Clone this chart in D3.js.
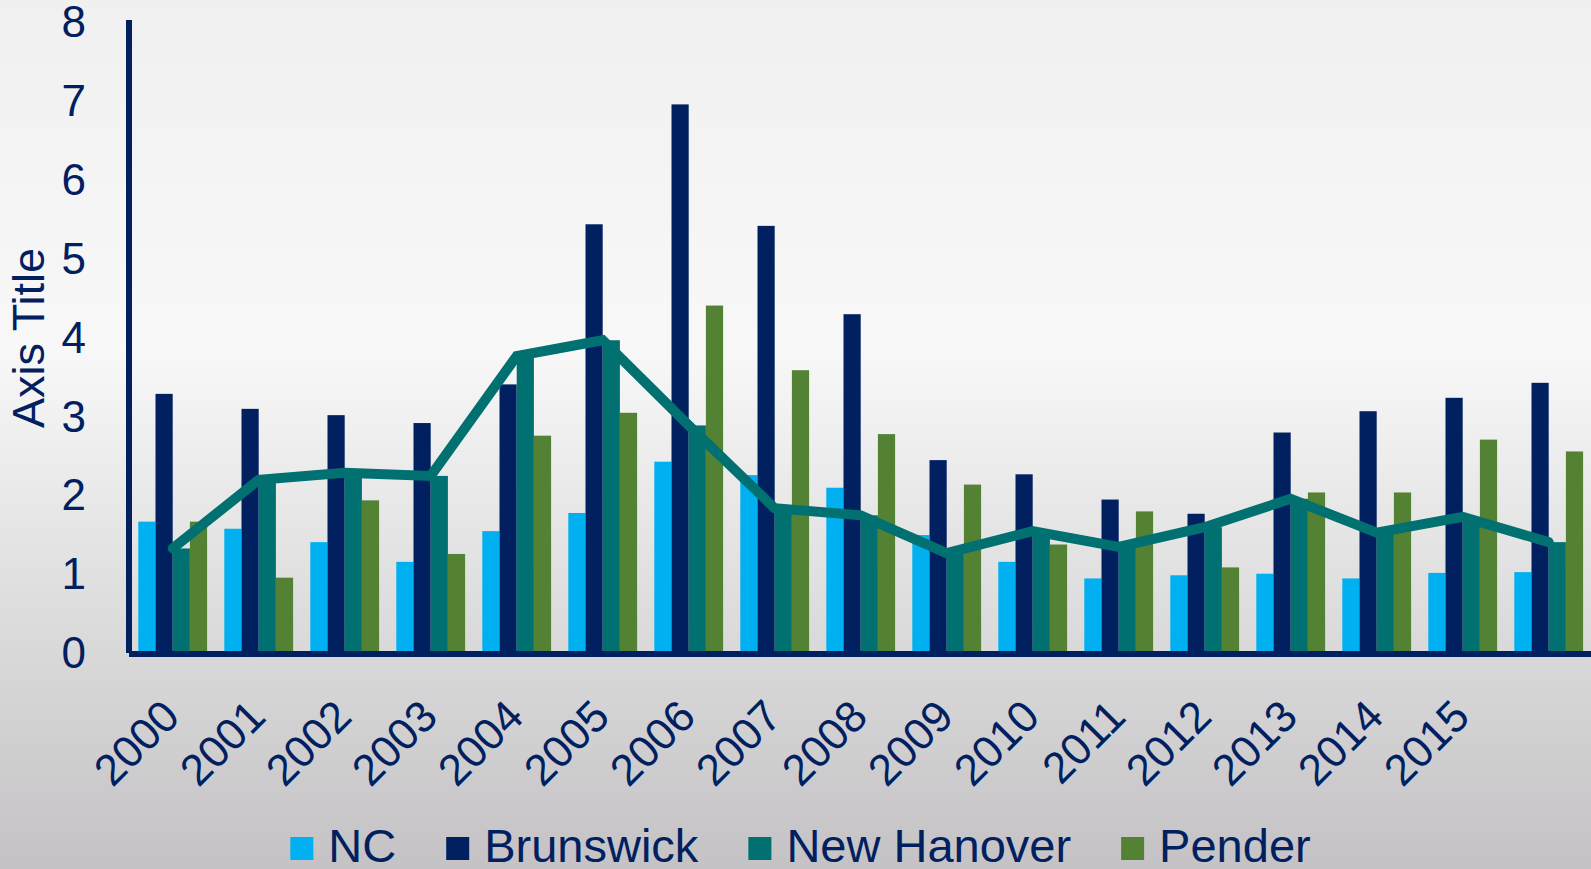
<!DOCTYPE html>
<html>
<head>
<meta charset="utf-8">
<script src="https://cdn.jsdelivr.net/npm/d3@7"></script>
<style>
  html, body { margin: 0; padding: 0; background: #f0f0f0; }
  svg { display: block; font-family: "Liberation Sans", Arial, sans-serif; }
</style>
</head>
<body>
<svg id="chart" width="1591" height="869"></svg>
<script>
// Category labels (the final group carries no label)
const years = ["2000","2001","2002","2003","2004","2005","2006","2007","2008",
               "2009","2010","2011","2012","2013","2014","2015",""];

const seriesNames = ["NC", "Brunswick", "New Hanover", "Pender"];

const ncValues        = [1.64,1.55,1.38,1.13,1.52,1.75,2.40,2.23,2.07,1.47,1.13,0.92,0.96,0.98,0.92,0.99,1.00];
const brunswickValues = [3.26,3.07,2.99,2.89,3.38,5.41,6.93,5.39,4.27,2.42,2.24,1.92,1.74,2.77,3.04,3.21,3.40];
const hanoverValues   = [1.30,2.17,2.26,2.22,3.74,3.94,2.86,1.81,1.72,1.24,1.52,1.32,1.57,1.93,1.50,1.70,1.38];
const penderValues    = [1.64,0.93,1.91,1.23,2.73,3.02,4.38,3.56,2.75,2.11,1.35,1.77,1.06,2.01,2.01,2.68,2.53];

const yTicks = [0,1,2,3,4,5,6,7,8];
const axisTitle = "Axis Title";

const colors = {
  "NC": "#00B0F0",
  "Brunswick": "#002060",
  "New Hanover": "#007070",
  "Pender": "#548235"
};
const textColor = "#002060";

const valuesBySeries = {
  "NC": ncValues,
  "Brunswick": brunswickValues,
  "New Hanover": hanoverValues,
  "Pender": penderValues
};

const rows = years.map((yr, i) => ({
  year: yr,
  values: seriesNames.map(s => ({ key: s, value: valuesBySeries[s][i] }))
}));

const W = 1591, H = 869;
const svg = d3.select("#chart");

// background gradient
const defs = svg.append("defs");
const grad = defs.append("linearGradient")
  .attr("id", "bg").attr("x1", 0).attr("y1", 0).attr("x2", 0).attr("y2", 1);
grad.append("stop").attr("offset", "0%").attr("stop-color", "#f0f0f0");
grad.append("stop").attr("offset", "40%").attr("stop-color", "#f8f8f8");
grad.append("stop").attr("offset", "100%").attr("stop-color", "#c4c2c4");
svg.append("rect").attr("width", W).attr("height", H).attr("fill", "url(#bg)");

// scales
const plotLeft = 129.7, plotRight = 1591.7;
const plotTop = 20, plotBottom = 651;

const x0 = d3.scaleBand().domain(years).range([plotLeft, plotRight]).paddingInner(0).paddingOuter(0);
const bw = x0.bandwidth();
const x1 = d3.scaleBand().domain(seriesNames).range([bw * 0.1, bw * 0.9]).padding(0);
const y = d3.scaleLinear().domain([0, 8]).range([plotBottom, plotTop]);

// bars
const groups = svg.append("g").selectAll("g")
  .data(rows).join("g")
  .attr("transform", d => `translate(${x0(d.year)},0)`);

groups.selectAll("rect")
  .data(d => d.values)
  .join("rect")
  .attr("x", d => x1(d.key))
  .attr("width", x1.bandwidth())
  .attr("y", d => y(d.value))
  .attr("height", d => y(0) - y(d.value))
  .attr("fill", d => colors[d.key]);

// New Hanover trend line through group centres
const line = d3.line()
  .x((d, i) => x0(years[i]) + bw / 2)
  .y(d => y(d));

svg.append("path")
  .datum(hanoverValues)
  .attr("d", line)
  .attr("fill", "none")
  .attr("stroke", colors["New Hanover"])
  .attr("stroke-width", 10)
  .attr("stroke-linecap", "round")
  .attr("stroke-linejoin", "miter");

// y axis
const yAxis = svg.append("g")
  .attr("transform", `translate(129,0)`)
  .call(d3.axisLeft(y).tickValues(yTicks).tickSize(0).tickSizeOuter(0).tickPadding(43).tickFormat(d3.format("d")));
yAxis.select(".domain")
  .attr("d", `M0,${plotTop}V${plotBottom + 2}`)
  .attr("stroke", textColor).attr("stroke-width", 6);
yAxis.selectAll("text")
  .attr("fill", textColor)
  .attr("font-size", 44)
  .attr("font-family", "Liberation Sans, Arial, sans-serif")
  .attr("dy", "0.38em");

// x axis
const xAxis = svg.append("g")
  .attr("transform", `translate(0,${plotBottom + 3})`)
  .call(d3.axisBottom(x0).tickSize(0).tickSizeOuter(0));
xAxis.select(".domain")
  .attr("d", `M129,0H${W}`)
  .attr("stroke", textColor).attr("stroke-width", 6);
xAxis.selectAll("text")
  .attr("fill", textColor)
  .attr("font-size", 44)
  .attr("font-family", "Liberation Sans, Arial, sans-serif")
  .attr("text-anchor", "end")
  .attr("x", 0).attr("y", 0).attr("dy", 0)
  .attr("transform", "translate(9,65) rotate(-45)");

// axis title
svg.append("text")
  .attr("transform", "translate(44,338) rotate(-90)")
  .attr("text-anchor", "middle")
  .attr("fill", textColor)
  .attr("font-size", 45)
  .text(axisTitle);

// legend
const legend = svg.append("g");
const sq = 23, gapText = 15, gapItem = 50;
const items = legend.selectAll("g").data(seriesNames).join("g");
items.append("rect")
  .attr("width", sq).attr("height", sq)
  .attr("y", 837)
  .attr("fill", d => colors[d]);
items.append("text")
  .attr("x", sq + gapText)
  .attr("y", 862)
  .attr("fill", textColor)
  .attr("font-size", 47)
  .text(d => d);

let widths = [];
items.each(function() {
  widths.push(d3.select(this).select("text").node().getComputedTextLength());
});
const total = d3.sum(widths) + seriesNames.length * (sq + gapText) + (seriesNames.length - 1) * gapItem;
let cx = 800.5 - total / 2;
items.attr("transform", function(d, i) {
  const t = `translate(${cx},0)`;
  cx += sq + gapText + widths[i] + gapItem;
  return t;
});
</script>
</body>
</html>
